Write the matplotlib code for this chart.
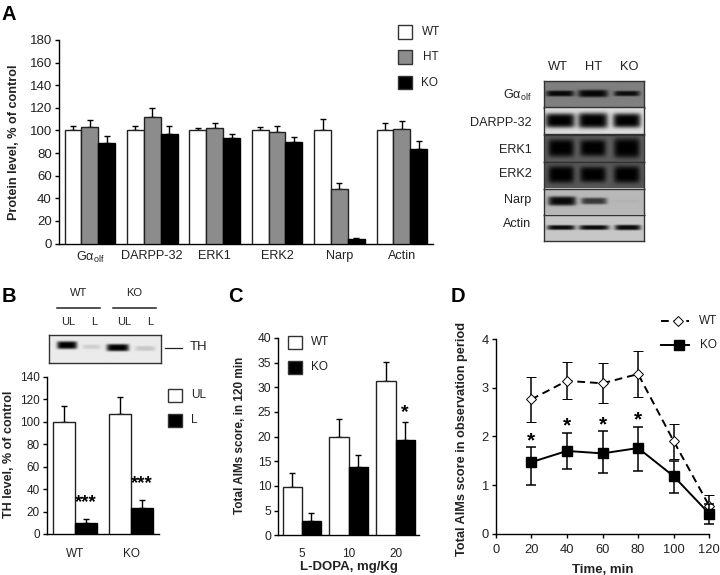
import numpy as np
import matplotlib
matplotlib.use("Agg")
import matplotlib.pyplot as plt
from matplotlib.patches import Rectangle

plt.rcParams['font.family'] = ['Liberation Sans', 'DejaVu Sans']
plt.rcParams['mathtext.fontset'] = 'custom'
plt.rcParams['mathtext.rm'] = 'Liberation Sans'
plt.rcParams['mathtext.it'] = 'Liberation Sans'

W, H = 720, 575
GRAY = '#8c8c8c'
TXT = '#222222'

# ---------------------------
# Data
# ---------------------------

# panel A
a_labels = ['G\u03b1$_{\\mathrm{olf}}$', 'DARPP-32', 'ERK1', 'ERK2', 'Narp', 'Actin']
a_wt = [100, 100, 100, 100, 100, 100]
a_ht = [103, 112, 102, 99, 48, 101]
a_ko = [89, 97, 93, 90, 4, 83.5]
a_wt_err = [3.5, 4, 2.5, 3, 10, 7]
a_ht_err = [6, 7.5, 5, 4.5, 5.5, 7]
a_ko_err = [6, 7, 3.5, 4, 1, 7.5]
a_yticks = [0, 20, 40, 60, 80, 100, 120, 140, 160, 180]

# panel B
b_labels = ['WT', 'KO']
b_ul = [100, 106.5]
b_l = [10, 23]
b_ul_err = [13.5, 15.5]
b_l_err = [3, 7]
b_yticks = [0, 20, 40, 60, 80, 100, 120, 140]

# panel C
c_labels = ['5', '10', '20']
c_wt = [9.8, 20, 31.2]
c_ko = [3, 13.9, 19.3]
c_wt_err = [2.8, 3.6, 3.9]
c_ko_err = [1.5, 2.3, 3.7]
c_yticks = [0, 5, 10, 15, 20, 25, 30, 35, 40]

# panel D
d_time = [20, 40, 60, 80, 100, 120]
d_wt = [2.76, 3.14, 3.09, 3.28, 1.90, 0.57]
d_wt_up = [3.22, 3.53, 3.50, 3.76, 2.25, 0.80]
d_wt_lo = [2.30, 2.76, 2.69, 2.81, 1.54, 0.35]
d_ko = [1.47, 1.70, 1.65, 1.76, 1.18, 0.41]
d_ko_up = [1.78, 2.07, 2.11, 2.20, 1.50, 0.62]
d_ko_lo = [1.01, 1.32, 1.24, 1.29, 0.83, 0.19]
d_star_time = [20, 40, 60, 80]

# blots: background grey, then (centre, half width, half height, darkness) per lane
blot_rows = [
    ('G\u03b1$_{\\mathrm{olf}}$', 0.50, [(0.16, 0.14, 0.11, 0.95), (0.49, 0.15, 0.14, 0.95), (0.83, 0.13, 0.10, 0.90)]),
    ('DARPP-32', 0.86, [(0.16, 0.15, 0.27, 1.0), (0.49, 0.15, 0.29, 1.0), (0.83, 0.14, 0.27, 1.0)]),
    ('ERK1', 0.36, [(0.17, 0.13, 0.32, 1.0), (0.49, 0.13, 0.30, 1.0), (0.83, 0.13, 0.36, 1.0)]),
    ('ERK2', 0.34, [(0.17, 0.13, 0.32, 1.0), (0.49, 0.13, 0.29, 1.0), (0.83, 0.13, 0.32, 1.0)]),
    ('Narp', 0.72, [(0.18, 0.14, 0.18, 0.95), (0.50, 0.13, 0.13, 0.70), (0.83, 0.13, 0.05, 0.03)]),
    ('Actin', 0.78, [(0.17, 0.14, 0.09, 0.95), (0.50, 0.15, 0.09, 0.95), (0.84, 0.13, 0.10, 0.95)]),
]
blot_label_y = [95, 122.7, 150, 174, 200, 224]
blot_lanes = ['WT', 'HT', 'KO']

# TH blot in panel B
th_bands = [(0.16, 0.09, 0.14, 1.0, 0.36), (0.38, 0.08, 0.08, 0.12, 0.42),
            (0.615, 0.10, 0.13, 1.0, 0.45), (0.86, 0.09, 0.09, 0.15, 0.48)]


# ---------------------------
# Helpers
# ---------------------------

def px_axes(left, top, right, bottom):
    return fig.add_axes([left / W, 1 - bottom / H, (right - left) / W, (bottom - top) / H])


def style(ax, yticks, ylabel, fs, lfs, label_x, label_y):
    ax.spines['top'].set_visible(False)
    ax.spines['right'].set_visible(False)
    ax.spines['left'].set_linewidth(1.0)
    ax.spines['bottom'].set_linewidth(1.0)
    ax.set_yticks(yticks)
    ax.tick_params(axis='y', length=3, width=1, labelsize=fs, pad=2, labelcolor=TXT)
    ax.set_ylabel(ylabel, fontweight='bold', fontsize=lfs, color=TXT)
    ax.yaxis.set_label_coords(label_x / W, 1 - label_y / H, transform=fig.transFigure)


def bars(ax, pos, vals, errs, width, color):
    ax.bar(pos, vals, width, color=color, edgecolor='#222222' if color != 'black' else 'black',
           linewidth=1.0, zorder=3)
    ax.errorbar(pos, vals, yerr=[np.zeros(len(errs)), errs], fmt='none', ecolor='black',
                elinewidth=1.0, capsize=2.5, capthick=1.0, zorder=2)


def gel(ax, bg, bands, ny=60, nx=240):
    # a blot strip built up from soft dark bands
    xx, yy = np.meshgrid(np.linspace(0, 1, nx), np.linspace(0, 1, ny))
    img = np.full_like(xx, bg)
    for band in bands:
        cx, hw, hh, dark = band[:4]
        cy = band[4] if len(band) > 4 else 0.5
        shape = np.exp(-np.abs((xx - cx) / hw) ** 6 - np.abs((yy - cy) / hh) ** 4)
        img = img * (1 - dark * shape)
    ax.imshow(img, cmap='gray', vmin=0, vmax=1, aspect='auto', extent=(0, 1, 1, 0),
              interpolation='bilinear')
    ax.set_xticks([])
    ax.set_yticks([])
    for s in ax.spines.values():
        s.set_linewidth(1.0)
        s.set_color('#333333')


def legend_box(x, y, color, label, tx):
    fig.add_artist(Rectangle((x / W, 1 - (y + 6.5) / H), 14 / W, 13 / H, transform=fig.transFigure,
                             facecolor=color, edgecolor='#333333', linewidth=1.0))
    fig.text(tx / W, 1 - y / H, label, fontsize=8.5, va='center', ha='left', color=TXT)


fig = plt.figure(figsize=(W / 100, H / 100), dpi=100)

# ---------------------------
# Panel A
# ---------------------------

ax = px_axes(58.7, 40, 433, 243.5)
pos = np.arange(len(a_labels))
bw = 0.27
bars(ax, pos - bw, a_wt, a_wt_err, bw, 'white')
bars(ax, pos, a_ht, a_ht_err, bw, GRAY)
bars(ax, pos + bw, a_ko, a_ko_err, bw, 'black')
ax.set_xlim(-0.5, 5.5)
ax.set_ylim(0, 180)
style(ax, a_yticks, 'Protein level, % of control', 9.5, 9.1, 20, 142)
ax.set_xticks(pos)
ax.set_xticklabels(a_labels, fontsize=9.1, color=TXT)
ax.tick_params(axis='x', length=0, pad=4.5)

legend_box(397.5, 32, 'white', 'WT', 421.5)
legend_box(397.5, 57, GRAY, 'HT', 423)
legend_box(397.5, 82.5, 'black', 'KO', 421.5)

# blots on the right
row_edges = [81, 107.5, 134.5, 161.5, 188.5, 214.5, 241]
for (name, bg, bands), top, bottom, ly in zip(blot_rows, row_edges[:-1], row_edges[1:], blot_label_y):
    gax = px_axes(543.5, top, 643.5, bottom)
    gel(gax, bg, bands)
    fig.text(531.5 / W, 1 - ly / H, name, fontsize=9.1, ha='right', va='center', color=TXT)
for name, x in zip(blot_lanes, [558, 594, 629]):
    fig.text(x / W, 1 - 67 / H, name, fontsize=9.3, ha='center', va='center', color=TXT)

# ---------------------------
# Panel B
# ---------------------------

ax = px_axes(46.7, 376.7, 159.3, 534)
pos = np.arange(len(b_labels))
bw = 0.39
bars(ax, pos - bw / 2, b_ul, b_ul_err, bw, 'white')
bars(ax, pos + bw / 2, b_l, b_l_err, bw, 'black')
ax.set_xlim(-0.5, 1.5)
ax.set_ylim(0, 140)
style(ax, b_yticks, 'TH level, % of control', 8.5, 9, 15, 454)
ax.set_xticks(pos)
ax.set_xticklabels(b_labels, fontsize=8.5, color=TXT)
ax.tick_params(axis='x', length=0, pad=10)
for p, v, e in zip(pos, b_l, b_l_err):
    ax.text(p + bw / 2, v + e + 7, '***', ha='center', va='bottom', fontsize=13.5,
            fontweight='bold', color='black')

legend_box(167.5, 395, 'white', 'UL', 191.5)
legend_box(167.5, 420, 'black', 'L', 191.5)

gax = px_axes(48.5, 335, 160.5, 362.7)
gel(gax, 0.92, th_bands)
fig.add_artist(plt.Line2D([165 / W, 182 / W], [1 - 348 / H] * 2, color='#222222', lw=0.9))
fig.text(190 / W, 1 - 347 / H, 'TH', fontsize=9.5, va='center', color=TXT)
for x0, x1, name, ul_x, l_x in [(57, 100, 'WT', 68, 94), (113, 156, 'KO', 124, 150)]:
    fig.add_artist(plt.Line2D([x0 / W, x1 / W], [1 - 308 / H] * 2, color='#222222', lw=1.1))
    fig.text((x0 + x1) / 2 / W, 1 - 293 / H, name, fontsize=8, ha='center', va='center', color=TXT)
    fig.text(ul_x / W, 1 - 322 / H, 'UL', fontsize=8, ha='center', va='center', color=TXT)
    fig.text(l_x / W, 1 - 322 / H, 'L', fontsize=8, ha='center', va='center', color=TXT)

# ---------------------------
# Panel C
# ---------------------------

ax = px_axes(278.3, 338, 419, 535.3)
pos = np.arange(len(c_labels))
bw = 0.41
bars(ax, pos - bw / 2, c_wt, c_wt_err, bw, 'white')
bars(ax, pos + bw / 2, c_ko, c_ko_err, bw, 'black')
ax.set_xlim(-0.5, 2.5)
ax.set_ylim(0, 40)
style(ax, c_yticks, 'Total AIMs score, in 120 min', 8.7, 8.5, 246, 435)
ax.set_xticks(pos)
ax.set_xticklabels(c_labels, fontsize=8.5, color=TXT)
ax.tick_params(axis='x', length=0, pad=9)
ax.set_xlabel('L-DOPA, mg/Kg', fontweight='bold', fontsize=9.5, labelpad=0.8, color=TXT)
ax.text(2 + bw / 2, c_ko[2] + c_ko_err[2] + 0.1, '*', ha='center', va='bottom', fontsize=14,
        fontweight='bold', color='black')

legend_box(287.5, 342, 'white', 'WT', 311)
legend_box(287.5, 367, 'black', 'KO', 311)

# ---------------------------
# Panel D
# ---------------------------

ax = px_axes(495.7, 339, 709.3, 533.7)
t = np.array(d_time)
wt = np.array(d_wt)
ko = np.array(d_ko)
ax.errorbar(t, wt, yerr=[wt - np.array(d_wt_lo), np.array(d_wt_up) - wt], color='black', lw=1.4,
            ls=(0, (4, 2.5)), marker='D', ms=5, mfc='white', mec='black', mew=0.7,
            elinewidth=1.1, capsize=3.5, capthick=1.1, zorder=3, label='WT')
ax.errorbar(t, ko, yerr=[ko - np.array(d_ko_lo), np.array(d_ko_up) - ko], color='black', lw=1.4,
            marker='s', ms=7, mfc='black', mec='black',
            elinewidth=1.1, capsize=3.5, capthick=1.1, zorder=4, label='KO')
ax.set_xlim(0, 120)
ax.set_ylim(0, 4)
style(ax, [0, 1, 2, 3, 4], 'Total AIMs score in observation period', 9.3, 9.2, 468.5, 438.5)
ax.set_xticks([0, 20, 40, 60, 80, 100, 120])
ax.tick_params(axis='x', length=3, width=1, labelsize=9.3, pad=4.5, labelcolor=TXT)
ax.set_xlabel('Time, min', fontweight='bold', fontsize=9.5, labelpad=6, color=TXT)
for tm, up in zip(d_star_time, d_ko_up):
    ax.text(tm, up - 0.06, '*', ha='center', va='bottom', fontsize=15, fontweight='bold', color='black')
for c in ax.get_children():
    if hasattr(c, 'set_clip_on'):
        c.set_clip_on(False)

fig.add_artist(plt.Line2D([661 / W, 689 / W], [1 - 321 / H] * 2, color='black', lw=1.4, ls=(0, (4, 2.5))))
fig.add_artist(plt.Line2D([678 / W], [1 - 321 / H], marker='D', ms=5, mfc='white', mec='black', mew=0.7))
fig.add_artist(plt.Line2D([661 / W, 689 / W], [1 - 345 / H] * 2, color='black', lw=1.4))
fig.add_artist(plt.Line2D([679 / W], [1 - 345 / H], marker='s', ms=7, mfc='black', mec='black'))
fig.text(699 / W, 1 - 321 / H, 'WT', fontsize=8.5, va='center', color=TXT)
fig.text(700 / W, 1 - 345 / H, 'KO', fontsize=8.5, va='center', color=TXT)

# ---------------------------
# Panel letters
# ---------------------------

for letter, x, y in [('A', 1.5, 14), ('B', 2, 297), ('C', 228.5, 297), ('D', 451, 297)]:
    fig.text(x / W, 1 - y / H, letter, fontsize=14.5, fontweight='bold', va='center', color='black')

fig.savefig('out.png', dpi=100)
